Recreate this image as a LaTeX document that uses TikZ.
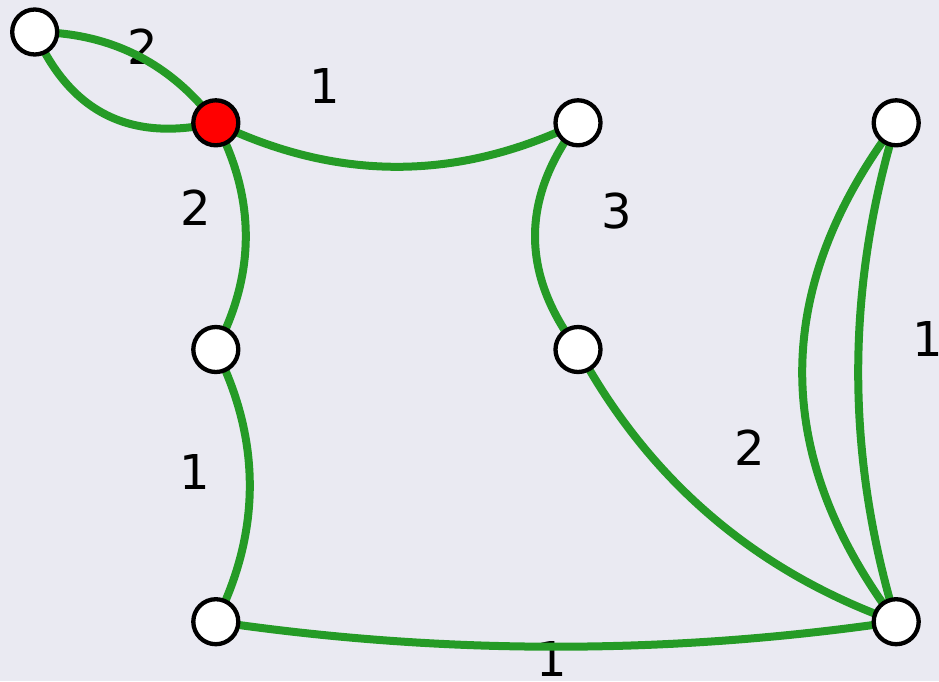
\documentclass[tikz,border=0pt]{standalone}
\usepackage{fontspec}
\setmainfont{DejaVu Sans}
\usetikzlibrary{calc}
\definecolor{bgc}{HTML}{EAEAF2}
\definecolor{edgec}{HTML}{259B26}
\pgfdeclarelayer{bg}
\pgfdeclarelayer{labels}
\pgfdeclarelayer{edges}
\pgfsetlayers{bg,labels,edges,main}
\tikzset{
  vertex/.style={circle, draw=black, line width=4.3pt, fill=white, minimum size=45pt, inner sep=0pt},
  redvertex/.style={vertex, fill=red},
  edgeline/.style={draw=edgec, line width=8pt},
  wlabel/.style={inner sep=0pt, text=black, font=\fontsize{48}{58}\selectfont},
}
\newcommand\curvedge[4]{%
  \path ($(#1.center)!0.5!(#2.center)!#3!#4:(#2.center)$) coordinate (qtmp);
  \draw[edgeline] (#1.center) .. controls ($(#1.center)!0.6667!(qtmp)$) and ($(#2.center)!0.6667!(qtmp)$) .. (#2.center);
}
\begin{document}
\begin{tikzpicture}[x=1pt,y=-1pt]
\begin{pgfonlayer}{bg}
\fill[bgc] (0,0) rectangle (939,681);
\end{pgfonlayer}
\useasboundingbox (0,0) rectangle (939,681);
% nodes
\node[vertex] (A) at (34.7,32) {};
\node[redvertex] (R) at (215.8,122.8) {};
\node[vertex] (B) at (578,122.8) {};
\node[vertex] (C) at (896.2,122.8) {};
\node[vertex] (D) at (215.8,349.5) {};
\node[vertex] (E) at (578,349.5) {};
\node[vertex] (F) at (215.8,621.7) {};
\node[vertex] (G) at (896.2,621.7) {};
% labels
\begin{pgfonlayer}{labels}
\node[wlabel] (l1) at (142.5,46.5) {2};
\node[wlabel] (l2) at (325,86) {1};
\node[wlabel] (l3) at (196,208) {2};
\node[wlabel] (l4) at (617,211) {3};
\node[wlabel] (l5) at (195,472) {1};
\node[wlabel] (l6) at (750,448) {2};
\node[wlabel] (l7) at (928,339) {1};
\node[wlabel] (l8) at (552,659) {1};
\end{pgfonlayer}
% edges
\begin{pgfonlayer}{edges}
\curvedge{A}{R}{50pt}{90}
\curvedge{A}{R}{84pt}{-90}
\curvedge{R}{B}{88pt}{-90}
\curvedge{R}{D}{60pt}{90}
\curvedge{D}{F}{68pt}{90}
\curvedge{B}{E}{86pt}{-90}
\curvedge{E}{G}{80pt}{-90}
\curvedge{F}{G}{50pt}{-90}
\curvedge{C}{G}{188pt}{-90}
\curvedge{C}{G}{76pt}{-90}
\end{pgfonlayer}
\end{tikzpicture}
\end{document}
